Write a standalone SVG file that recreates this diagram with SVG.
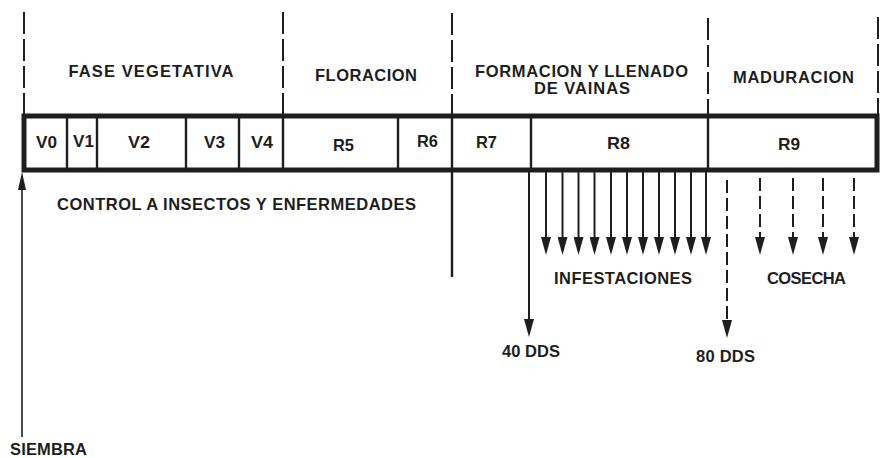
<svg xmlns="http://www.w3.org/2000/svg" width="881" height="458" viewBox="0 0 881 458">
<style>
text{font-family:"Liberation Sans",Arial,Helvetica,sans-serif;font-weight:bold;font-size:16.5px;fill:#1e1e1e;text-anchor:middle}
.bar{fill:none;stroke:#1e1e1e;stroke-width:5}
.div{stroke:#1e1e1e;stroke-width:2.4}
.phase{stroke:#1e1e1e;stroke-width:2;stroke-dasharray:22 5}
.arr{stroke:#1e1e1e;stroke-width:2;fill:none}
.darr{stroke:#1e1e1e;stroke-width:2;fill:none;stroke-dasharray:13 5}
</style>
<defs>
<marker id="ah" viewBox="0 0 18 10" refX="14" refY="5" markerWidth="18" markerHeight="10" markerUnits="userSpaceOnUse" orient="auto">
<path d="M0,0 L18,5 L0,10 Z" fill="#1e1e1e" stroke="none"/>
</marker>
<marker id="ahs" viewBox="0 0 18 8" refX="14" refY="4" markerWidth="18" markerHeight="8" markerUnits="userSpaceOnUse" orient="auto">
<path d="M0,0 L18,4 L0,8 Z" fill="#1e1e1e" stroke="none"/>
</marker>
</defs>
<rect width="881" height="458" fill="#ffffff"/>

<g id="connectors">
<line class="phase" x1="24" y1="12" x2="24" y2="114"/>
<line class="phase" x1="283" y1="12" x2="283" y2="114"/>
<line class="phase" x1="452" y1="13" x2="452" y2="115"/>
<line class="phase" x1="708" y1="18" x2="708" y2="116"/>
<line class="phase" x1="878" y1="17" x2="878" y2="116"/>
<line class="div" x1="452" y1="171" x2="452" y2="277"/>
<line class="arr" style="stroke-width:1.6" x1="22" y1="437" x2="22" y2="176" marker-end="url(#ahs)"/>
<line class="arr" x1="529" y1="172" x2="529" y2="333" marker-end="url(#ah)"/>
<line class="arr" x1="546" y1="172" x2="546" y2="251" marker-end="url(#ah)"/>
<line class="arr" x1="562.5" y1="172" x2="562.5" y2="251" marker-end="url(#ah)"/>
<line class="arr" x1="578.5" y1="172" x2="578.5" y2="251" marker-end="url(#ah)"/>
<line class="arr" x1="594.5" y1="172" x2="594.5" y2="251" marker-end="url(#ah)"/>
<line class="arr" x1="611" y1="172" x2="611" y2="251" marker-end="url(#ah)"/>
<line class="arr" x1="627" y1="172" x2="627" y2="251" marker-end="url(#ah)"/>
<line class="arr" x1="643" y1="172" x2="643" y2="251" marker-end="url(#ah)"/>
<line class="arr" x1="659" y1="172" x2="659" y2="251" marker-end="url(#ah)"/>
<line class="arr" x1="675" y1="172" x2="675" y2="251" marker-end="url(#ah)"/>
<line class="arr" x1="691" y1="172" x2="691" y2="251" marker-end="url(#ah)"/>
<line class="arr" x1="706" y1="172" x2="706" y2="251" marker-end="url(#ah)"/>
<line class="darr" x1="727" y1="180" x2="727" y2="334" marker-end="url(#ah)"/>
<line class="darr" x1="760" y1="178" x2="760" y2="251" marker-end="url(#ah)"/>
<line class="darr" x1="793" y1="178" x2="793" y2="251" marker-end="url(#ah)"/>
<line class="darr" x1="823" y1="178" x2="823" y2="251" marker-end="url(#ah)"/>
<line class="darr" x1="854" y1="178" x2="854" y2="251" marker-end="url(#ah)"/>
</g>

<g id="bar">
<rect class="bar" x="24" y="116" width="853" height="54"/>
<line class="div" x1="67" y1="116" x2="67" y2="170"/>
<line class="div" x1="97" y1="116" x2="97" y2="170"/>
<line class="div" x1="186" y1="116" x2="186" y2="170"/>
<line class="div" x1="239" y1="116" x2="239" y2="170"/>
<line class="div" x1="283" y1="116" x2="283" y2="170"/>
<line class="div" x1="398" y1="116" x2="398" y2="170"/>
<line class="div" x1="452" y1="116" x2="452" y2="170"/>
<line class="div" x1="531" y1="116" x2="531" y2="170"/>
<line class="div" x1="708" y1="116" x2="708" y2="170"/>
</g>

<g id="phase-vegetativa"><text x="151" y="77" textLength="165" lengthAdjust="spacing">FASE VEGETATIVA</text></g>
<g id="phase-floracion"><text x="366" y="81" textLength="102" lengthAdjust="spacing">FLORACION</text></g>
<g id="phase-formacion"><text x="581.5" y="77" textLength="213" lengthAdjust="spacing">FORMACION Y LLENADO</text><text x="582" y="94" textLength="96" lengthAdjust="spacing">DE VAINAS</text></g>
<g id="phase-maduracion"><text x="793.5" y="83" textLength="121" lengthAdjust="spacing">MADURACION</text></g>

<g id="cell-v0"><text x="46.5" y="148" textLength="21" lengthAdjust="spacingAndGlyphs">V0</text></g>
<g id="cell-v1"><text x="83.5" y="147" textLength="21" lengthAdjust="spacingAndGlyphs">V1</text></g>
<g id="cell-v2"><text x="139" y="148" textLength="22" lengthAdjust="spacingAndGlyphs">V2</text></g>
<g id="cell-v3"><text x="214.5" y="148" textLength="21" lengthAdjust="spacingAndGlyphs">V3</text></g>
<g id="cell-v4"><text x="262" y="148" textLength="22" lengthAdjust="spacingAndGlyphs">V4</text></g>
<g id="cell-r5"><text x="343.5" y="151" textLength="21" lengthAdjust="spacingAndGlyphs">R5</text></g>
<g id="cell-r6"><text x="427.5" y="147" textLength="21" lengthAdjust="spacingAndGlyphs">R6</text></g>
<g id="cell-r7"><text x="486.5" y="148" textLength="21" lengthAdjust="spacingAndGlyphs">R7</text></g>
<g id="cell-r8"><text x="618.5" y="149" textLength="23" lengthAdjust="spacingAndGlyphs">R8</text></g>
<g id="cell-r9"><text x="789" y="150" textLength="22" lengthAdjust="spacingAndGlyphs">R9</text></g>

<g id="control"><text x="236.5" y="210" textLength="359" lengthAdjust="spacing">CONTROL A INSECTOS Y ENFERMEDADES</text></g>
<g id="infestaciones"><text x="623" y="284" textLength="138" lengthAdjust="spacing">INFESTACIONES</text></g>
<g id="cosecha"><text x="806.5" y="284" textLength="79" lengthAdjust="spacing">COSECHA</text></g>
<g id="dds40"><text x="531" y="357" textLength="58" lengthAdjust="spacing">40 DDS</text></g>
<g id="dds80"><text x="725.5" y="362" textLength="59" lengthAdjust="spacing">80 DDS</text></g>
<g id="siembra"><text x="48.5" y="455" textLength="77" lengthAdjust="spacing">SIEMBRA</text></g>
</svg>
